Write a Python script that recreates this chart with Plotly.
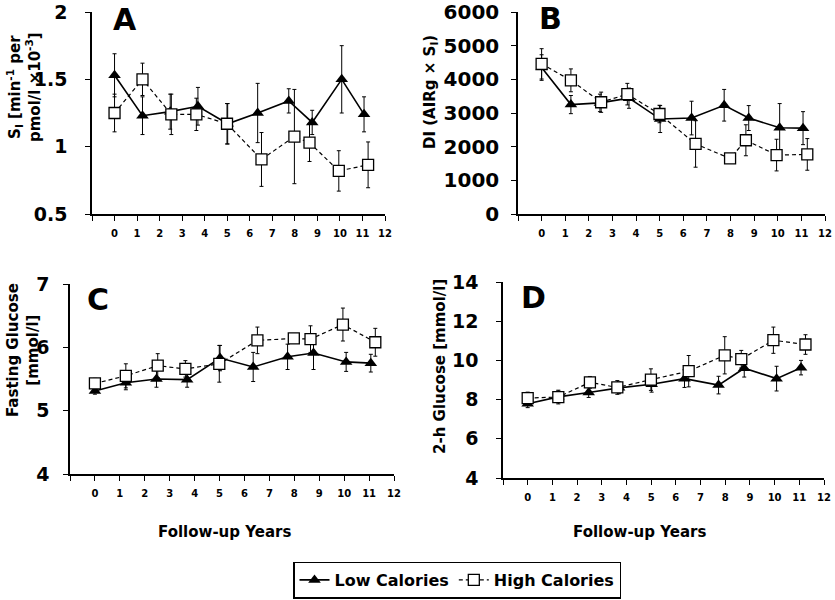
import plotly.graph_objects as go

# follow-up years (low / high calorie groups are offset slightly)
x_low = [0, 1.24, 2.47, 3.70, 5.02, 6.35, 7.73, 8.77, 10.08, 11.07]
x_high = [0, 1.24, 2.52, 3.63, 4.99, 6.52, 7.98, 8.65, 9.95, 11.25]

# A: insulin sensitivity
si_low = [1.53, 1.23, 1.26, 1.30, 1.17, 1.25, 1.34, 1.18, 1.50, 1.24]
si_low_err = [0.16, 0.14, 0.13, 0.14, 0.15, 0.22, 0.09, 0.09, 0.25, 0.13]
si_high = [1.25, 1.50, 1.24, 1.24, 1.17, 0.905, 1.075, 1.03, 0.82, 0.865]
si_high_err = [0.14, 0.12, 0.15, 0.12, 0.15, 0.20, 0.35, 0.14, 0.15, 0.17]

# B: disposition index
di_low = [4350, 3250, 3300, 3440, 2820, 2850, 3230, 2850, 2560, 2550]
di_low_err = [380, 270, 260, 300, 400, 500, 470, 370, 720, 490]
di_high = [4460, 3970, 3320, 3560, 2970, 2080, 1650, 2190, 1750, 1770]
di_high_err = [450, 340, 300, 320, 260, 690, 110, 460, 470, 470]

# C: fasting glucose
fg_low = [5.31, 5.44, 5.50, 5.49, 5.83, 5.69, 5.85, 5.91, 5.77, 5.75]
fg_low_err = [0.05, 0.11, 0.13, 0.12, 0.20, 0.23, 0.20, 0.26, 0.15, 0.14]
fg_high = [5.43, 5.55, 5.71, 5.66, 5.74, 6.11, 6.14, 6.13, 6.36, 6.08]
fg_high_err = [0.08, 0.19, 0.19, 0.13, 0.29, 0.21, 0.03, 0.21, 0.26, 0.22]

# D: 2-h glucose
g2_low = [7.79, 8.14, 8.36, 8.60, 8.78, 9.07, 8.74, 9.60, 9.07, 9.63]
g2_low_err = [0.2, 0.3, 0.25, 0.3, 0.4, 0.45, 0.45, 0.45, 0.63, 0.37]
g2_high = [8.08, 8.13, 8.88, 8.62, 9.02, 9.45, 10.26, 10.06, 11.03, 10.81]
g2_high_err = [0.3, 0.35, 0.3, 0.35, 0.55, 0.8, 0.95, 0.45, 0.67, 0.5]

x_ticks = list(range(0, 13))

FONT = "DejaVu Sans, Arial, sans-serif"
W, H = 835, 600

def fx(px):
    return px / W

def fy(py):
    return 1 - py / H

panels = [
    # name, low, low_err, high, high_err, y range, tick vals, tick labels, x px, y px, standoff, tick size
    ("A", si_low, si_low_err, si_high, si_high_err, [0.5, 2], [0.5, 1, 1.5, 2], ["0.5", "1", "1.5", "2"], (92, 385), (12, 214), 14, 19),
    ("B", di_low, di_low_err, di_high, di_high_err, [0, 6000], list(range(0, 7000, 1000)), [str(v) for v in range(0, 7000, 1000)], (518, 825), (12, 214), 8, 20),
    ("C", fg_low, fg_low_err, fg_high, fg_high_err, [4, 7], [4, 5, 6, 7], ["4", "5", "6", "7"], (70, 394), (284, 474), 10, 19),
    ("D", g2_low, g2_low_err, g2_high, g2_high_err, [4, 14], [4, 6, 8, 10, 12, 14], ["4", "6", "8", "10", "12", "14"], (503, 824), (282, 478), 14, 19),
]

fig = go.Figure()
layout = {}
for i, (name, lo, lo_e, hi, hi_e, yr, yt, ytt, xpx, ypx, sto, tsz) in enumerate(panels, start=1):
    xa = "x" if i == 1 else f"x{i}"
    ya = "y" if i == 1 else f"y{i}"
    fig.add_trace(go.Scatter(
        x=x_low, y=lo, xaxis=xa, yaxis=ya,
        mode="lines+markers", name="Low Calories",
        line=dict(color="black", width=1.6),
        marker=dict(symbol="triangle-up", size=11, color="black"),
        error_y=dict(type="data", array=lo_e, color="black", thickness=1, width=2),
        showlegend=(i == 1), legendrank=1,
    ))
    fig.add_trace(go.Scatter(
        x=x_high, y=hi, xaxis=xa, yaxis=ya,
        mode="lines+markers", name="High Calories",
        line=dict(color="black", width=1.2, dash="4px,3px"),
        marker=dict(symbol="square", size=11, color="white", line=dict(color="black", width=1.3)),
        error_y=dict(type="data", array=hi_e, color="black", thickness=1, width=2),
        showlegend=(i == 1), legendrank=2,
    ))
    xkey = "xaxis" if i == 1 else f"xaxis{i}"
    ykey = "yaxis" if i == 1 else f"yaxis{i}"
    layout[xkey] = dict(
        domain=[fx(xpx[0]), fx(xpx[1])], anchor=ya, range=[-1, 12],
        tickvals=x_ticks, ticks="outside", ticklen=5, automargin=False,
        tickcolor="black", showline=True, linecolor="black", linewidth=1.5,
        minor=dict(tickvals=[-1], ticks="outside", ticklen=5, tickcolor="black"),
        showgrid=False, zeroline=False, ticklabelstandoff=4,
        ticklabeloverflow="allow",
        tickfont=dict(family=FONT, size=10, color="black", weight="bold"),
    )
    layout[ykey] = dict(
        domain=[fy(ypx[1]), fy(ypx[0])], anchor=xa, range=yr,
        tickvals=yt, ticktext=ytt, ticks="outside", ticklen=5, automargin=False,
        tickcolor="black", showline=True, linecolor="black", linewidth=1.5,
        showgrid=False, zeroline=False, ticklabelstandoff=sto,
        ticklabeloverflow="allow",
        tickfont=dict(family=FONT, size=tsz, color="black", weight="bold"),
    )

fig.update_layout(**layout)

annotations = []
def ann(text, x, y, size, angle=0):
    annotations.append(dict(
        text=text, x=fx(x), y=fy(y), xref="paper", yref="paper",
        showarrow=False, textangle=angle, xanchor="center", yanchor="middle",
        font=dict(family=FONT, size=size, color="black", weight="bold"),
    ))

# panel letters
ann("A", 125, 20, 30)
ann("B", 550, 19, 30)
ann("C", 98, 299, 30)
ann("D", 533, 298, 30)

# y axis titles
ann("S<sub>I</sub> [min<sup>-1</sup> per<br>pmol/l ×10<sup>-3</sup>]", 24, 87, 15, -90)
ann("DI (AIRg × S<sub>I</sub>)", 430, 92, 15, -90)
ann("Fasting Glucose<br>[mmol/l]", 23, 350, 15, -90)
ann("2-h Glucose [mmol/l]", 440, 367, 15, -90)

# x axis titles
ann("Follow-up Years", 224, 532, 15)
ann("Follow-up Years", 639, 532, 15)

fig.update_layout(
    width=W, height=H,
    margin=dict(l=0, r=0, t=0, b=0, autoexpand=False),
    paper_bgcolor="white", plot_bgcolor="white",
    annotations=annotations,
    showlegend=True,
    legend=dict(
        orientation="h", x=fx(457), xanchor="center", y=fy(580), yanchor="middle",
        bordercolor="black", borderwidth=1.5, bgcolor="white",
        font=dict(family=FONT, size=16, color="black", weight="bold"),
        itemwidth=30, traceorder="normal",
    ),
)

# drop the default 8px page margin so the figure fills the window exactly
fig.write_html(
    "out.html",
    config={"displayModeBar": False},
    post_script="document.body.style.margin = '0';",
)
